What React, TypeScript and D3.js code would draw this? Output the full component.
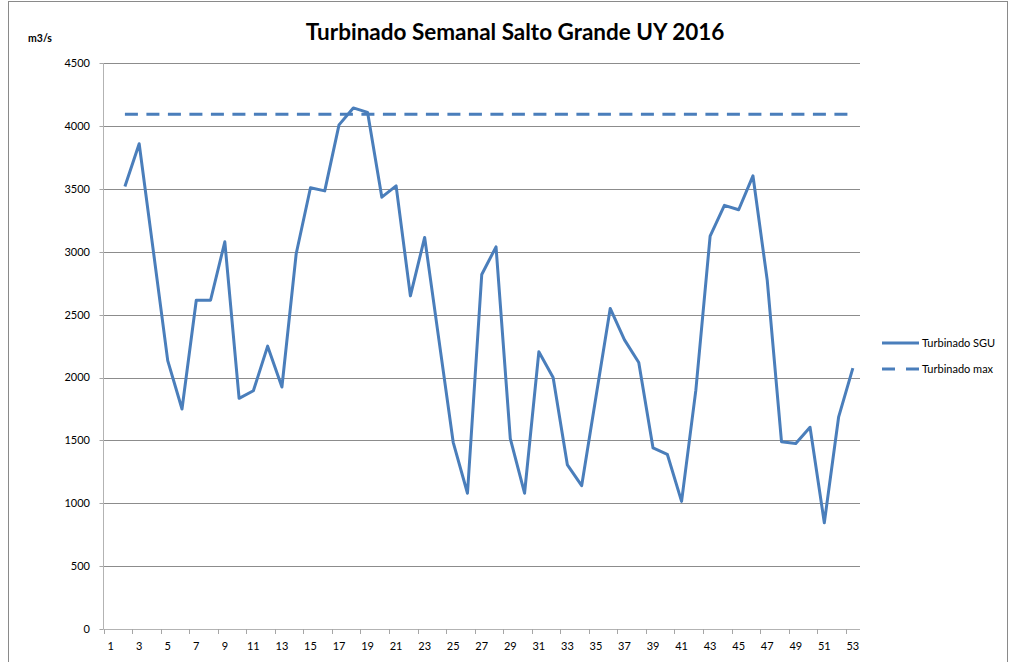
import * as d3 from 'd3';

const weeks = d3.range(1, 54);
// week 1 has no value in the source sheet
const turbinadoSGU: (number | null)[] = [
  null, 3520, 3860, 3000, 2135, 1750, 2615, 2615, 3080, 1835,
  1895, 2250, 1925, 2985, 3510, 3485, 4010, 4145, 4110, 3435,
  3525, 2650, 3115, 2300, 1485, 1080, 2820, 3040, 1515, 1080,
  2205, 2000, 1305, 1140, 1845, 2550, 2300, 2120, 1440, 1390,
  1015, 1900, 3125, 3370, 3335, 3605, 2775, 1490, 1475, 1605,
  845, 1685, 2075,
];
const turbinadoMax: (number | null)[] = weeks.map((w) => (w === 1 ? null : 4095));
const yTicks = [0, 500, 1000, 1500, 2000, 2500, 3000, 3500, 4000, 4500];
const seriesNames = ['Turbinado SGU', 'Turbinado max'];

const W = 1010;
const H = 662;
const plot = { left: 103.5, right: 860, top: 63.3, bottom: 629 };
const blue = '#4a7ebb';
const font = 'Lato, "Liberation Sans", sans-serif';

export default function App() {
  const x = d3.scaleBand<number>().domain(weeks).range([plot.left, plot.right]).padding(0);
  const y = d3.scaleLinear().domain([0, 4500]).range([plot.bottom, plot.top]);
  const cx = (w: number) => (x(w) ?? 0) + x.bandwidth() / 2;

  const line = d3
    .line<number | null>()
    .defined((d) => d !== null)
    .x((_, i) => cx(weeks[i]))
    .y((d) => y(d as number));

  const tickWeeks = weeks.filter((w) => w % 2 === 1);

  return (
    <svg
      width={W}
      height={H}
      style={{ position: 'absolute', left: 0, top: 0, background: '#fff' }}
      fontFamily={font}
    >
      <rect x={8.5} y={1.5} width={999} height={H + 10} fill="none" stroke="#8a8a8a" strokeWidth={1} />

      <text x={515} y={40} textAnchor="middle" fontSize={22.5} fontWeight="bold" fill="#000">
        Turbinado Semanal Salto Grande UY 2016
      </text>
      <text x={28} y={42} fontSize={10.5} fontWeight="bold" fill="#000">
        m3/s
      </text>

      {/* grid + y ticks */}
      {yTicks.map((t) => (
        <g key={t}>
          {t > 0 && (
            <line x1={plot.left} x2={plot.right} y1={Math.round(y(t)) + 0.5} y2={Math.round(y(t)) + 0.5} stroke="#8c8c8c" />
          )}
          <line x1={plot.left - 4} x2={plot.left} y1={Math.round(y(t)) + 0.5} y2={Math.round(y(t)) + 0.5} stroke="#a6a6a6" />
          <text x={90} y={y(t)} dy="0.35em" textAnchor="end" fontSize={11} fill="#000">
            {t}
          </text>
        </g>
      ))}

      {/* axes */}
      <line x1={plot.left} x2={plot.left} y1={plot.top} y2={plot.bottom} stroke="#b3b3b3" />
      <line x1={plot.left} x2={plot.right} y1={Math.round(plot.bottom) + 0.5} y2={Math.round(plot.bottom) + 0.5} stroke="#b3b3b3" />
      {tickWeeks.map((w) => (
        <g key={w}>
          <line
            x1={Math.round(x(w) ?? 0) + 0.5}
            x2={Math.round(x(w) ?? 0) + 0.5}
            y1={plot.bottom}
            y2={plot.bottom + 5}
            stroke="#a6a6a6"
          />
          <text x={cx(w)} y={646} dy="0.35em" textAnchor="middle" fontSize={11} fill="#000">
            {w}
          </text>
        </g>
      ))}

      {/* series */}
      <path d={line(turbinadoMax) ?? ''} fill="none" stroke={blue} strokeWidth={3} strokeDasharray="13 8.5" />
      <path d={line(turbinadoSGU) ?? ''} fill="none" stroke={blue} strokeWidth={3} strokeLinejoin="round" />

      {/* legend */}
      {seriesNames.map((name, i) => (
        <g key={name} transform={`translate(882, ${343 + i * 26})`}>
          <line x1={0} x2={37} y1={0} y2={0} stroke={blue} strokeWidth={3} strokeDasharray={i === 1 ? '13 11' : undefined} />
          <text x={40} y={0} dy="0.35em" fontSize={11} fill="#000">
            {name}
          </text>
        </g>
      ))}
    </svg>
  );
}
